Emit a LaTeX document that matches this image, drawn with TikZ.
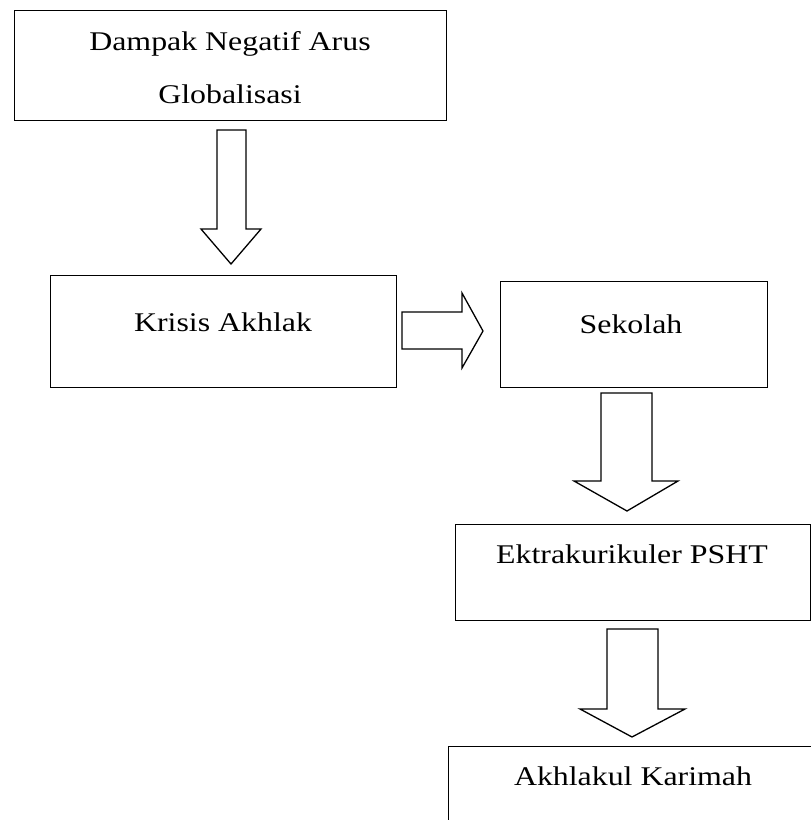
\documentclass[tikz,border=0pt]{standalone}
\usepackage{fontspec}
\setmainfont{Liberation Serif}[FakeStretch=1.18]
\begin{document}
\begin{tikzpicture}[x=1pt,y=-1pt,
  box/.style={draw=black,line width=1.3pt,fill=white,inner sep=0pt,anchor=north west},
  lbl/.style={anchor=base,inner sep=0pt,font=\fontsize{27}{32}\selectfont},
  blockarrow/.style={draw=black,line width=1.3pt,fill=white,line join=miter}]
\useasboundingbox (0,0) rectangle (811,820);
\clip (0,0) rectangle (811,820);
% boxes
\node[box,minimum width=432pt,minimum height=110pt] (dampak) at (14,10) {};
\node[box,minimum width=346pt,minimum height=112pt] (krisis) at (50,275) {};
\node[box,minimum width=267pt,minimum height=106pt] (sekolah) at (500,281) {};
\node[box,minimum width=355pt,minimum height=96pt] (ekstra) at (455,524) {};
\node[box,minimum width=400pt,minimum height=120pt] (akhlak) at (448,746) {};
% labels
\node[lbl] (t1a) at (230,50) {Dampak Negatif Arus};
\node[lbl] (t1b) at (230,103) {Globalisasi};
\node[lbl] (t2) at (223,331) {Krisis Akhlak};
\node[lbl] (t3) at (631,333) {Sekolah};
\node[lbl] (t4) at (632,563) {Ektrakurikuler PSHT};
\node[lbl] (t5) at (633,785) {Akhlakul Karimah};
% block arrows
\draw[blockarrow] (217,130) -- (246,130) -- (246,229) -- (261,229) -- (231,264) -- (201,229) -- (217,229) -- cycle;
\draw[blockarrow] (402,312) -- (462,312) -- (462,293) -- (483,331) -- (462,368) -- (462,349) -- (402,349) -- cycle;
\draw[blockarrow] (601,393) -- (652,393) -- (652,481) -- (678,481) -- (627,511) -- (574,481) -- (601,481) -- cycle;
\draw[blockarrow] (607,629) -- (658,629) -- (658,709) -- (685,709) -- (632,737) -- (580,709) -- (607,709) -- cycle;
\end{tikzpicture}
\end{document}
